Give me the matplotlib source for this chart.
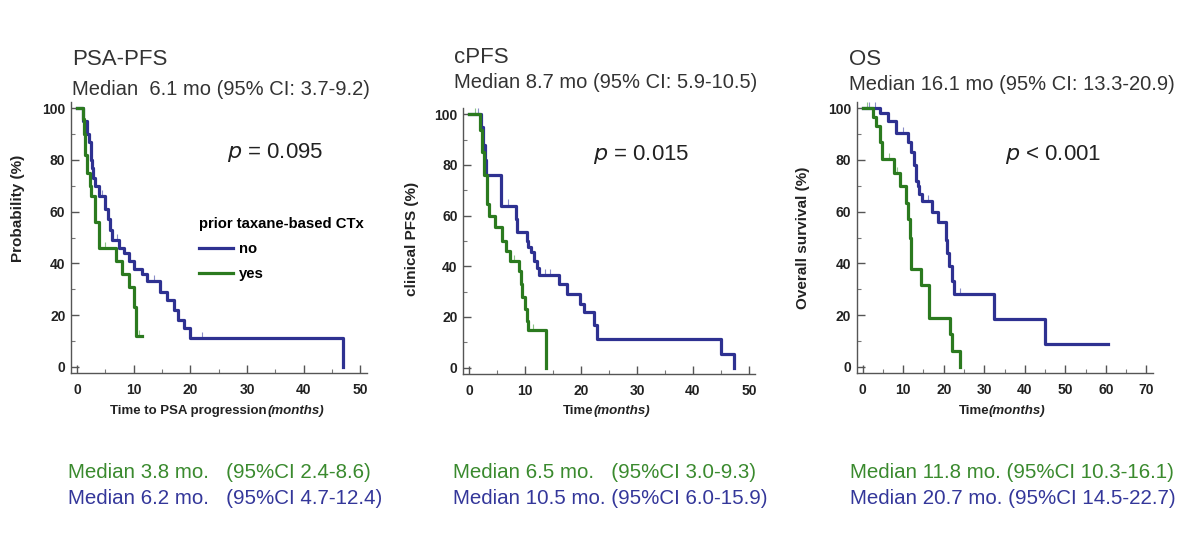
import matplotlib
matplotlib.use('Agg')
import matplotlib.pyplot as plt
import numpy as np

plt.rcParams['font.family'] = ['Liberation Sans', 'DejaVu Sans']

BLUE = '#2e3191'
GREEN = '#2b7a1f'
GRAY = '#333333'

# ---------------- data ----------------
titles = ['PSA-PFS', 'cPFS', 'OS']
overall = ['Median  6.1 mo (95% CI: 3.7-9.2)',
           'Median 8.7 mo (95% CI: 5.9-10.5)',
           'Median 16.1 mo (95% CI: 13.3-20.9)']
pvals = ['0.095', '0.015', '0.001']
pops = ['=', '=', '<']
ylabels = ['Probability (%)', 'clinical PFS (%)', 'Overall survival (%)']
xlabel_main = ['Time to PSA progression', 'Time', 'Time']
xmax = [50, 50, 70]
yes_text = ['Median 3.8 mo.   (95%CI 2.4-8.6)',
            'Median 6.5 mo.   (95%CI 3.0-9.3)',
            'Median 11.8 mo. (95%CI 10.3-16.1)']
no_text = ['Median 6.2 mo.   (95%CI 4.7-12.4)',
           'Median 10.5 mo. (95%CI 6.0-15.9)',
           'Median 20.7 mo. (95%CI 14.5-22.7)']
legend_title = 'prior taxane-based CTx'
legend_labels = ['no', 'yes']

# PSA-PFS
psa_no_t = [0, 1.1, 1.7, 2.2, 2.4, 2.6, 2.9, 3.2, 3.8, 4.9, 5.4, 5.8, 6.1, 7.4, 8.3, 9.1, 10.0, 11.4, 12.4, 14.7, 15.9, 17.1, 17.9, 18.8, 20.0, 47.0]
psa_no_s = [100, 95, 90, 87, 80, 77, 73, 70, 66, 61, 57, 53, 49, 46, 44, 41, 38, 36, 33, 29, 26, 22, 18, 15, 11, 0]
psa_yes_t = [0, 1.0, 1.3, 1.5, 1.7, 2.3, 2.5, 3.1, 3.8, 6.9, 7.9, 9.2, 10.0, 10.5, 11.4]
psa_yes_s = [100, 96, 90, 82, 75, 70, 66, 56, 46, 41, 36, 31, 23, 12, 12]
psa_no_cens = [4.5, 7.0, 13.5, 22.0]
psa_yes_cens = [5.0, 11.0]

# cPFS
cpfs_no_t = [0, 2.2, 2.5, 2.8, 3.0, 5.7, 8.3, 8.6, 10.3, 10.6, 11.0, 11.6, 12.2, 12.5, 16.0, 17.5, 19.9, 20.5, 22.3, 22.8, 45.0, 47.3]
cpfs_no_s = [100, 95, 88, 82, 76, 64, 58.7, 53.4, 50, 47.8, 45.5, 42, 39.4, 36.4, 33, 29, 25, 22, 16.7, 11.4, 5.5, 0]
cpfs_yes_t = [0, 2.0, 2.3, 2.6, 3.1, 3.6, 4.7, 5.9, 6.5, 7.3, 8.9, 9.2, 9.5, 9.9, 10.3, 10.6, 13.8]
cpfs_yes_s = [100, 94, 85, 76, 64.6, 60, 55.4, 50, 46, 42, 38, 33, 28, 23, 18.6, 15, 0]
cpfs_no_cens = [1.5, 7.0, 13.5, 14.5]
cpfs_yes_cens = [1.0, 8.0, 11.5]

# OS
os_no_t = [0, 4.2, 6.3, 8.3, 11.2, 12.0, 12.6, 13.2, 13.6, 14.0, 14.7, 17.0, 18.5, 20.6, 20.9, 21.2, 22.1, 22.6, 32.3, 44.9, 60.6]
os_no_s = [100, 98, 95, 90.5, 87, 83, 78, 72, 70, 67, 64, 60, 56, 49, 44, 39, 33, 28, 18.5, 9, 9]
os_yes_t = [0, 2.6, 3.4, 4.2, 4.8, 7.8, 9.2, 10.6, 11.2, 11.6, 12.0, 14.3, 16.3, 21.5, 22.0, 24.0]
os_yes_s = [100, 96.5, 93, 87, 80.5, 75, 70, 63.5, 57, 50, 38, 31.5, 18.8, 12.6, 6.3, 0]
os_no_cens = [1.5, 3.0, 10.0, 16.0, 24.0]
os_yes_cens = [1.0, 6.5, 8.5]

curves = [
    (psa_no_t, psa_no_s, psa_no_cens, psa_yes_t, psa_yes_s, psa_yes_cens),
    (cpfs_no_t, cpfs_no_s, cpfs_no_cens, cpfs_yes_t, cpfs_yes_s, cpfs_yes_cens),
    (os_no_t, os_no_s, os_no_cens, os_yes_t, os_yes_s, os_yes_cens),
]

# ---------------- layout ----------------
W, H = 1200, 533
fig = plt.figure(figsize=(12, 5.33), dpi=100)
fig.patch.set_facecolor('white')

def fx(px):
    return px / W

def fy(py):
    return 1 - py / H

axes_px = [(71, 101.7, 366.7, 373.3), (463.3, 108, 755, 374), (856.7, 101.7, 1152.7, 373.3)]
title_pos = [(72, 65, 95), (454, 63, 88), (849, 65, 90)]
p_pos = [(227, 158), (593, 160), (1005, 160)]
ylab_coords = [(-0.156, 0.609), (-0.152, 0.506), (-0.158, 0.50)]
xlab_right = [0.663, 0.445, 0.447]
bottom_x = [68, 453, 850]

def surv_at(ts, ss, t):
    idx = np.searchsorted(np.asarray(ts), t, side='right') - 1
    return np.asarray(ss)[idx]

for i in range(3):
    l, t, r, b = axes_px[i]
    ax = fig.add_axes([fx(l), fy(b), fx(r - l), (b - t) / H])
    nt, ns, nc, yt, ys, yc = curves[i]
    ax.set_xlim(-xmax[i] * 0.021, xmax[i] * 1.022)
    ax.set_ylim(-2.5, 102.5)
    ax.step(nt, ns, where='post', color=BLUE, lw=2.3, label=legend_labels[0], zorder=3)
    ax.step(yt, ys, where='post', color=GREEN, lw=2.3, label=legend_labels[1], zorder=3)
    ax.plot(nc, [surv_at(nt, ns, c) + 1.2 for c in nc], ls='none', marker='|', ms=4,
            mew=0.8, color='#8a8dc8', zorder=2)
    ax.plot(yc, [surv_at(yt, ys, c) + 1.2 for c in yc], ls='none', marker='|', ms=4,
            mew=0.8, color='#8cc487', zorder=2)

    for s in ['top', 'right']:
        ax.spines[s].set_visible(False)
    for s in ['left', 'bottom']:
        ax.spines[s].set_color('#555555')
        ax.spines[s].set_linewidth(1.0)

    ax.set_xticks(np.arange(0, xmax[i] + 1, 10))
    ax.set_xticks(np.arange(5, xmax[i], 10), minor=True)
    ax.set_yticks(np.arange(0, 101, 20))
    ax.set_yticks(np.arange(10, 100, 20), minor=True)
    ax.tick_params(axis='both', which='major', direction='in', length=6, width=1.0,
                   color='#555555', labelsize=10, labelcolor='#222222')
    ax.tick_params(axis='both', which='minor', direction='in', length=3, width=0.8,
                   color='#777777')
    ax.tick_params(axis='x', which='major', pad=7)
    ax.tick_params(axis='y', which='major', pad=4)
    for lab in ax.get_xticklabels() + ax.get_yticklabels():
        lab.set_fontweight('bold')

    ax.set_ylabel(ylabels[i], fontsize=11, fontweight='bold', color='#222222')
    ax.yaxis.set_label_coords(*ylab_coords[i])

    t1 = ax.text(xlab_right[i], -0.14, xlabel_main[i], transform=ax.transAxes,
                 ha='right', va='center', fontsize=9.5, fontweight='bold', color='#222222')
    ax.annotate('(months)', xy=(1, 0), xycoords=t1, ha='left', va='bottom',
                fontsize=9.5, fontweight='bold', fontstyle='italic', color='#222222')

    tx, ty1, ty2 = title_pos[i]
    fig.text(fx(tx), fy(ty1), titles[i], fontsize=16, color=GRAY, ha='left', va='baseline')
    fig.text(fx(tx), fy(ty2), overall[i], fontsize=14.5, color=GRAY, ha='left', va='baseline')

    px_, py_ = p_pos[i]
    fig.text(fx(px_), fy(py_), r'$p$ ' + pops[i] + ' ' + pvals[i], fontsize=16,
             color='#222222', ha='left', va='baseline')

    fig.text(fx(bottom_x[i]), fy(472), yes_text[i], fontsize=14.8, color='#3a8a2e',
             ha='left', va='center')
    fig.text(fx(bottom_x[i]), fy(499), no_text[i], fontsize=14.8, color='#34379a',
             ha='left', va='center')

    if i == 0:
        leg = ax.legend(title=legend_title, loc='upper left',
                        bbox_to_anchor=(fx(199), fy(217)), bbox_transform=fig.transFigure,
                        frameon=False, handlelength=2.3, handletextpad=0.4,
                        labelspacing=0.75, borderpad=0, borderaxespad=0,
                        prop={'weight': 'bold', 'size': 10.7},
                        title_fontproperties={'weight': 'bold', 'size': 10.7})
        leg._legend_box.align = 'left'
        leg._legend_box.sep = 8

fig.savefig('out.png', dpi=100, facecolor='white')
